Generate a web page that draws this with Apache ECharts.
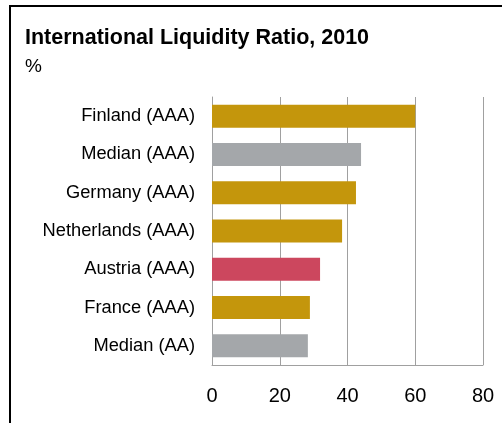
<!DOCTYPE html>
<html>
<head>
<meta charset="utf-8">
<script src="https://cdn.jsdelivr.net/npm/echarts@6/dist/echarts.min.js"></script>
<style>
  html, body { margin: 0; padding: 0; background: #fff; }
  #chart { width: 502px; height: 423px; }
</style>
</head>
<body>
<div id="chart"></div>
<script>
// 数据
var categories = ['Finland (AAA)', 'Median (AAA)', 'Germany (AAA)', 'Netherlands (AAA)', 'Austria (AAA)', 'France (AAA)', 'Median (AA)'];
var values = [60, 44, 42.5, 38.4, 31.9, 28.9, 28.3];
var groups = ['aaa', 'median', 'aaa', 'aaa', 'focus', 'aaa', 'median'];
var xTicks = [0, 20, 40, 60, 80];

var groupColor = {
    aaa: '#c4960c',
    median: '#a4a7aa',
    focus: '#cc475e'
};
var font = 'Liberation Sans, Arial, sans-serif';

var myChart = echarts.init(document.getElementById('chart'));
var option = {
    animation: false,
    title: {
        text: 'International Liquidity Ratio, 2010',
        subtext: '%',
        left: 20,
        top: 22,
        itemGap: 8,
        textStyle: { fontFamily: font, fontSize: 21.5, fontWeight: 'bold', color: '#000' },
        subtextStyle: { fontFamily: font, fontSize: 19, color: '#000' }
    },
    graphic: [{
        // 外框
        type: 'polyline',
        shape: { points: [[10, 430], [10, 6], [510, 6]] },
        style: { stroke: '#000', lineWidth: 2, fill: null }
    }],
    grid: { left: 212, right: 19, top: 97, bottom: 58 },
    xAxis: {
        type: 'value',
        min: xTicks[0],
        max: xTicks[xTicks.length - 1],
        interval: 20,
        axisLine: { show: true, lineStyle: { color: '#a0a0a0' } },
        axisTick: { show: false },
        splitLine: { lineStyle: { color: '#a0a0a0' } },
        axisLabel: { fontFamily: font, fontSize: 20, color: '#000', margin: 21 }
    },
    yAxis: {
        type: 'category',
        inverse: true,
        data: categories,
        axisLine: { lineStyle: { color: '#a0a0a0' } },
        axisTick: { length: 6, lineStyle: { color: '#c8c8c8' } },
        axisLabel: { fontFamily: font, fontSize: 18.3, color: '#000', margin: 17 }
    },
    series: [{
        type: 'bar',
        barCategoryGap: '40%',
        data: values.map(function(v, i) {
            return { value: v, itemStyle: { color: groupColor[groups[i]] } };
        })
    }]
};
myChart.setOption(option);
</script>
</body>
</html>
